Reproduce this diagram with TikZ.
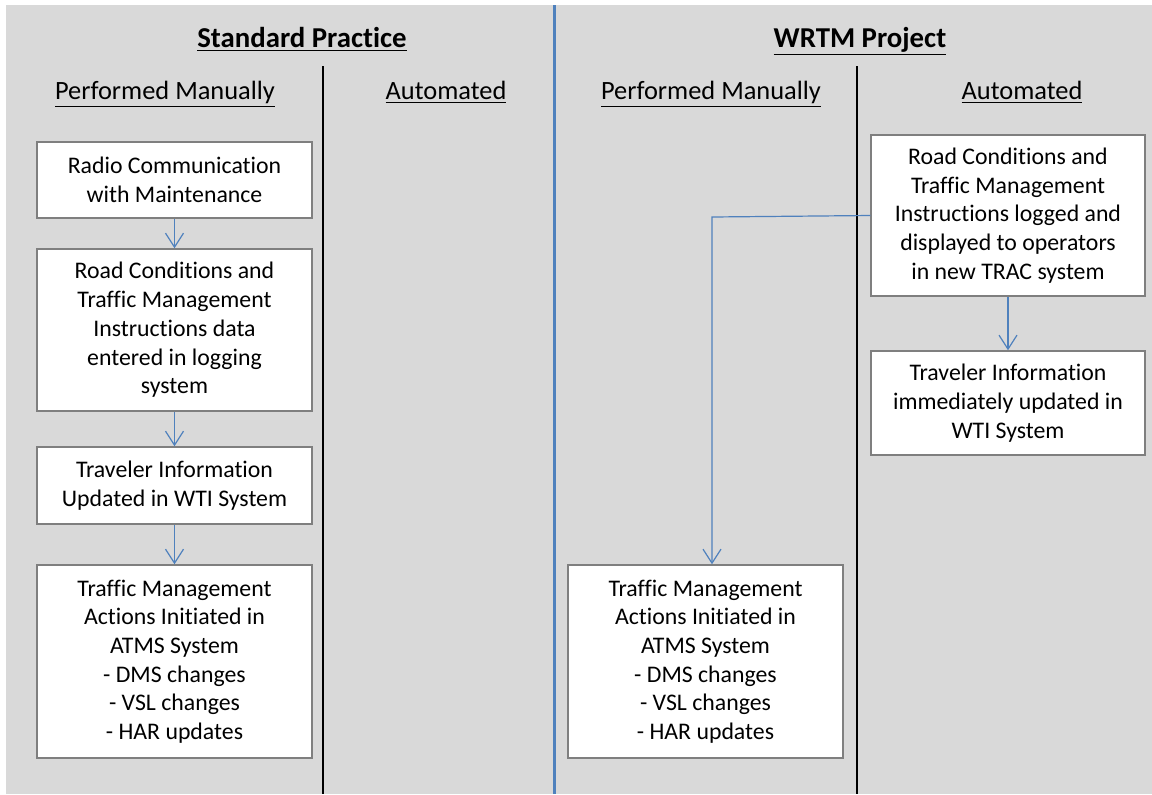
\documentclass[tikz,border=0pt]{standalone}
\usepackage{fontspec}
\setmainfont[Ligatures=NoCommon]{Carlito}
\usetikzlibrary{arrows.meta}
\usetikzlibrary{positioning}

\definecolor{panelgrey}{HTML}{D9D9D9}
\definecolor{flowblue}{HTML}{4F81BD}
\definecolor{boxgrey}{HTML}{7F7F7F}

\tikzset{
  procbox/.style={draw=boxgrey,line width=0.75pt,fill=white,align=center,
    inner sep=0pt,font=\fontsize{11.9}{14.35}\selectfont},
  flow/.style={draw=flowblue,line width=0.6pt,-{Straight Barb[length=7pt,width=9pt]}},
  heading/.style={anchor=base,font=\fontsize{14.4}{17}\selectfont\bfseries},
  colhead/.style={anchor=base,font=\fontsize{13.2}{16}\selectfont},
}

\begin{document}
\begin{tikzpicture}[x=0.5pt,y=-0.5pt]
	\useasboundingbox (0,0) rectangle (1152,794);
	\fill[panelgrey] (6,5) rectangle (1152,794);

	% lane dividers
	\draw[flowblue,line width=1.5pt] (554,5) -- (554,794);
	\draw[black,line width=0.7pt] (323,66) -- (323,794);
	\draw[black,line width=0.7pt] (857,66) -- (857,794);

	% headings
	\node[heading](stdhead) at (302,47) {\underline{Standard Practice}};
	\node[heading](wrtmhead) at (860,47) {\underline{WRTM Project}};
	\node[colhead](stdman) at (165,99) {\underline{Performed Manually}};
	\node[colhead](stdauto) at (446,99) {\underline{Automated}};
	\node[colhead](wrtmman) at (711,99) {\underline{Performed Manually}};
	\node[colhead](wrtmauto) at (1022,99) {\underline{Automated}};

	% standard practice
	\node[procbox,minimum width=137.5pt,minimum height=38pt](radio) at (174.5,180)
		{Radio Communication\\with Maintenance};
	\node[procbox,minimum width=137.5pt,minimum height=81pt](logentry) at (174.5,330)
		{Road Conditions and\\Traffic Management\\Instructions data\\entered in logging\\system};
	\node[procbox,minimum width=137.5pt,minimum height=38.5pt](wtiman) at (174.5,485.5)
		{Traveler Information\\Updated in WTI System};
	\node[procbox,minimum width=137.5pt,minimum height=96.5pt](atmsstd) at (174.5,661.5)
		{Traffic Management\\Actions Initiated in\\ATMS System\\- DMS changes\\- VSL changes\\- HAR updates};

	\draw[flow] (radio) -- (logentry);
	\draw[flow] (logentry) -- (wtiman);
	\draw[flow] (wtiman) -- (atmsstd);

	% WRTM project
	\node[procbox,minimum width=137pt,minimum height=80.5pt](trac) at (1008,215.5)
		{Road Conditions and\\Traffic Management\\Instructions logged and\\displayed to operators\\in new TRAC system};
	\node[procbox,minimum width=137pt,minimum height=52pt](wtiauto) at (1008,403)
		{Traveler Information\\immediately updated in\\WTI System};
	\node[procbox,minimum width=137.5pt,minimum height=96.5pt](atmswrtm) at (705.5,661.5)
		{Traffic Management\\Actions Initiated in\\ATMS System\\- DMS changes\\- VSL changes\\- HAR updates};
	\coordinate (bend) at (712,217);

	\draw[flow] (trac) -- (wtiauto);
	\draw[flow] (trac.west) -- (bend) -- (bend |- atmswrtm.north);
\end{tikzpicture}
\end{document}
